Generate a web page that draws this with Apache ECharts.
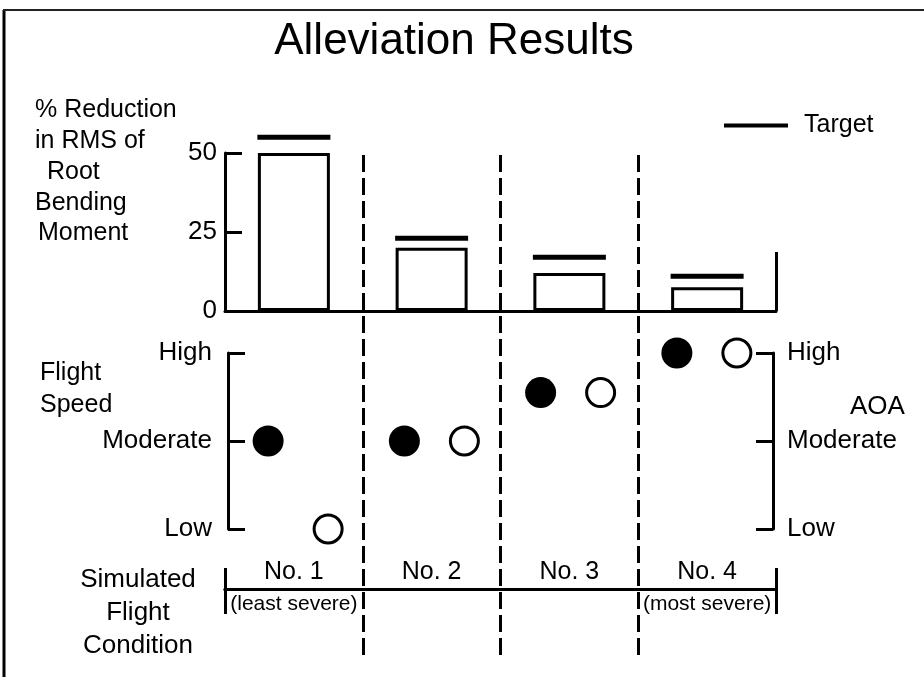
<!DOCTYPE html>
<html><head><meta charset="utf-8">
<script src="https://cdn.jsdelivr.net/npm/echarts@6/dist/echarts.min.js"></script>
<style>html,body{margin:0;padding:0;background:#fff}#c{width:924px;height:677px}</style>
</head><body><div id="c"></div>
<script>
// ---- data ----
const conditions = ['No. 1', 'No. 2', 'No. 3', 'No. 4'];
const severity = ['(least severe)', '', '', '(most severe)'];
const reduction = [50, 20, 12, 7.5];      // % reduction in RMS of root bending moment
const target = [55, 23, 17, 11];          // target reduction
const levels = ['Low', 'Moderate', 'High'];
const flightSpeed = [1, 1, 1.55, 2];      // filled circles (left axis)
const aoa = [0, 1, 1.55, 2];              // open circles (right axis)
const dividers = [1, 2, 3];               // boundaries between conditions

// ---- style ----
const F = "'Liberation Sans', Arial, Helvetica, sans-serif";
const K = '#000';

function txt(s, x, y, align, size) {
  return { type: 'text', x: x, y: y, silent: true,
    style: { text: s, font: size + 'px ' + F, fill: K, align: align, textAlign: align,
             verticalAlign: 'middle', textVerticalAlign: 'middle' } };
}

const chart = echarts.init(document.getElementById('c'), null, { renderer: 'canvas' });
const tickEnds = function (i) { return i === 0; };

const option = {
  animation: false,
  backgroundColor: '#fff',
  textStyle: { fontFamily: F, color: K },
  title: {
    text: 'Alleviation Results', left: 449, top: 15, textAlign: 'center',
    textStyle: { fontFamily: F, fontSize: 44, fontWeight: 'normal', color: K }
  },
  legend: {
    data: [{ name: 'Target', icon: 'rect', itemStyle: { color: K, opacity: 1 } }],
    left: 724, top: 113, padding: 0, itemWidth: 64, itemHeight: 4,
    selectedMode: false,
    textStyle: { fontSize: 25, color: K, fontFamily: F, padding: [0, 0, 0, 11] }
  },
  grid: [
    { left: 225, right: 148, top: 153, height: 158, outerBoundsMode: 'none' },
    { left: 228, right: 151, top: 353, height: 176, outerBoundsMode: 'none' },
    { left: 225, right: 148, top: 588, height: 1, outerBoundsMode: 'none' },
    { left: 225, right: 148, top: 152, height: 503, outerBoundsMode: 'none' }
  ],
  xAxis: [
    { gridIndex: 0, type: 'category', data: conditions,
      axisLine: { lineStyle: { color: K, width: 3 } },
      axisTick: { show: true, inside: true, length: 59, interval: tickEnds, lineStyle: { color: K, width: 3 } },
      axisLabel: { show: false }, splitLine: { show: false } },
    { gridIndex: 1, type: 'category', data: conditions, show: false },
    { gridIndex: 2, type: 'category', data: conditions, position: 'top',
      axisLine: { lineStyle: { color: K, width: 3 } },
      axisTick: { show: true, length: 21, interval: tickEnds, lineStyle: { color: K, width: 3 } },
      axisLabel: { interval: 0, fontSize: 25, margin: 3, color: K, fontFamily: F } },
    { gridIndex: 2, type: 'category', data: severity, position: 'bottom',
      axisLine: { lineStyle: { color: K, width: 3 } },
      axisTick: { show: true, length: 25, interval: tickEnds, lineStyle: { color: K, width: 3 } },
      axisLabel: { interval: 0, fontSize: 21, margin: 5, color: K, fontFamily: F } },
    { gridIndex: 3, type: 'value', min: 0, max: 4, show: false }
  ],
  yAxis: [
    { gridIndex: 0, type: 'value', min: 0, max: 50, interval: 25,
      axisLine: { show: true, lineStyle: { color: K, width: 3 } },
      axisTick: { show: true, inside: true, length: 17, lineStyle: { color: K, width: 3 } },
      axisLabel: { fontSize: 26, color: K, margin: 8, fontFamily: F }, splitLine: { show: false } },
    { gridIndex: 1, type: 'value', min: 0, max: 2, interval: 1, position: 'left',
      axisLine: { show: true, lineStyle: { color: K, width: 3 } },
      axisTick: { show: true, inside: true, length: 17, lineStyle: { color: K, width: 3 } },
      axisLabel: { fontSize: 26, color: K, margin: 16, fontFamily: F, formatter: function (v) { return levels[v]; } },
      splitLine: { show: false } },
    { gridIndex: 1, type: 'value', min: 0, max: 2, interval: 1, position: 'right',
      axisLine: { show: true, lineStyle: { color: K, width: 3 } },
      axisTick: { show: true, inside: true, length: 17, lineStyle: { color: K, width: 3 } },
      axisLabel: { fontSize: 26, color: K, margin: 14, fontFamily: F, formatter: function (v) { return levels[v]; } },
      splitLine: { show: false } },
    { gridIndex: 2, type: 'value', show: false },
    { gridIndex: 3, type: 'value', min: 0, max: 1, show: false }
  ],
  series: [
    { type: 'bar', name: 'Reduction', xAxisIndex: 0, yAxisIndex: 0, data: reduction, barWidth: 72,
      itemStyle: { color: '#fff', borderColor: K, borderWidth: 3, opacity: 1 } },
    { type: 'scatter', name: 'Target', xAxisIndex: 0, yAxisIndex: 0, data: target, clip: false,
      symbol: 'rect', symbolSize: [73, 5], itemStyle: { color: K, opacity: 1 } },
    { type: 'scatter', name: 'Flight Speed', xAxisIndex: 1, yAxisIndex: 1, data: flightSpeed, clip: false,
      symbol: 'circle', symbolSize: 31, symbolOffset: [-28, 0], itemStyle: { color: K, opacity: 1 } },
    { type: 'scatter', name: 'AOA', xAxisIndex: 1, yAxisIndex: 2, data: aoa, clip: false,
      symbol: 'circle', symbolSize: 28, symbolOffset: [32, 0],
      itemStyle: { color: '#fff', borderColor: K, borderWidth: 3, opacity: 1 } },
    { type: 'line', name: 'dividers', xAxisIndex: 4, yAxisIndex: 4, data: [],
      markLine: { silent: true, symbol: 'none', label: { show: false },
        lineStyle: { color: K, width: 3, type: [17, 6], opacity: 1 },
        data: dividers.map(function (v) { return { xAxis: v }; }) } }
  ],
  graphic: [
    { type: 'line', silent: true, shape: { x1: 4, y1: 10, x2: 4, y2: 677 }, style: { stroke: K, lineWidth: 3 } },
    { type: 'line', silent: true, shape: { x1: 3, y1: 10, x2: 924, y2: 10 }, style: { stroke: '#222', lineWidth: 2 } },
    txt('% Reduction', 35, 110, 'left', 25),
    txt('in RMS of', 35, 141, 'left', 25),
    txt('Root', 47, 172, 'left', 25),
    txt('Bending', 35, 203, 'left', 25),
    txt('Moment', 38, 233, 'left', 25),
    txt('Flight', 40, 373, 'left', 25),
    txt('Speed', 40, 405, 'left', 25),
    txt('AOA', 850, 407, 'left', 26),
    txt('Simulated', 138, 580, 'center', 26),
    txt('Flight', 138, 613, 'center', 26),
    txt('Condition', 138, 646, 'center', 26)
  ]
};
chart.setOption(option);
</script>
</body></html>
